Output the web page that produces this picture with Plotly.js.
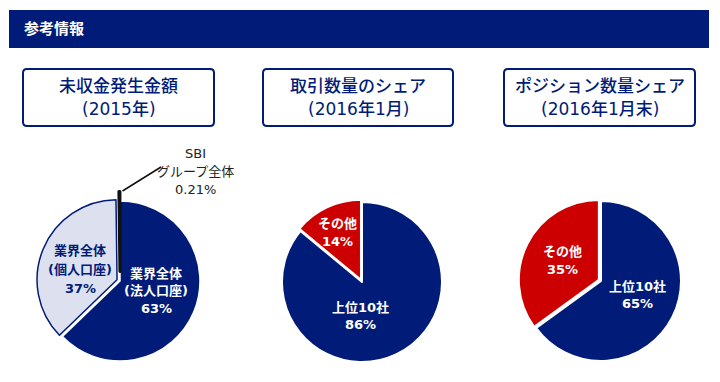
<!DOCTYPE html>
<html>
<head>
<meta charset="utf-8">
<script src="https://cdn.plot.ly/plotly-3.0.1.min.js"></script>
<style>
html,body{margin:0;padding:0;background:#fff;}
#chart{width:720px;height:382px;}
</style>
</head>
<body>
<div id="chart"></div>
<script>
// ---- data ----
const headerText = '参考情報';
const chartTitles = [['未収金発生金額', '(2015年)'], ['取引数量のシェア', '(2016年1月)'], ['ポジション数量シェア', '(2016年1月末)']];

const pie1Labels = [['業界全体', '(法人口座)'], ['業界全体', '(個人口座)'], ['SBI', 'グループ全体']];
const pie1Values = [62.79, 37.00, 0.21];

const pie2Labels = [['上位10社'], ['その他']];
const pie2Values = [86, 14];

const pie3Labels = [['上位10社'], ['その他']];
const pie3Values = [65, 35];

// ---- styling ----
const W = 720, H = 382;
const NAVY = '#001c78';
const LIGHT = '#dde1ef';
const RED = '#cc0000';
const FONT = '"DejaVu Sans", "Noto Sans CJK JP", sans-serif';

const px = x => x / W;
const py = y => 1 - y / H;
function fmtPct(v){ return (v >= 1 ? Math.round(v) : v.toFixed(2)) + '%'; }
function pieDomain(cx, cy, r, maxPull){
  const h = r * (1 + maxPull);
  return {x:[px(cx - h), px(cx + h)], y:[py(cy + h), py(cy - h)]};
}
function rrect(x0,y0,x1,y1,r){
  return `M${px(x0+r)},${py(y0)} L${px(x1-r)},${py(y0)} Q${px(x1)},${py(y0)} ${px(x1)},${py(y0+r)} `+
         `L${px(x1)},${py(y1-r)} Q${px(x1)},${py(y1)} ${px(x1-r)},${py(y1)} `+
         `L${px(x0+r)},${py(y1)} Q${px(x0)},${py(y1)} ${px(x0)},${py(y1-r)} `+
         `L${px(x0)},${py(y0+r)} Q${px(x0)},${py(y0)} ${px(x0+r)},${py(y0)} Z`;
}

const pull1 = [0, 0.04, 0.12];
const pull2 = [0, 0.03];
const pull3 = [0, 0.03];

const traces = [
  {
    type:'pie', labels:pie1Labels.map(l=>l.join('')), values:pie1Values, sort:false, direction:'clockwise', rotation:0,
    pull:pull1, textinfo:'none', hoverinfo:'none',
    marker:{colors:[NAVY, LIGHT, '#111111'], line:{color:['#ffffff', NAVY, '#111111'], width:[1.5, 1.5, 3]}},
    domain: pieDomain(120, 281, 80, Math.max(...pull1))
  },
  {
    type:'pie', labels:pie2Labels.map(l=>l.join('')), values:pie2Values, sort:false, direction:'clockwise', rotation:0,
    pull:pull2, textinfo:'none', hoverinfo:'none',
    marker:{colors:[NAVY, RED], line:{color:'#ffffff', width:2}},
    domain: pieDomain(362, 282, 80, Math.max(...pull2))
  },
  {
    type:'pie', labels:pie3Labels.map(l=>l.join('')), values:pie3Values, sort:false, direction:'clockwise', rotation:0,
    pull:pull3, textinfo:'none', hoverinfo:'none',
    marker:{colors:[NAVY, RED], line:{color:'#ffffff', width:2}},
    domain: pieDomain(601, 281, 80, Math.max(...pull3))
  }
];

const shapes = [
  {type:'rect', xref:'paper', yref:'paper', x0:px(9), x1:px(709), y0:py(48), y1:py(10), fillcolor:NAVY, line:{width:0}, layer:'below'},
  {type:'path', xref:'paper', yref:'paper', path:rrect(23,69,214,126,4), line:{color:NAVY, width:2}},
  {type:'path', xref:'paper', yref:'paper', path:rrect(263,69,453,126,4), line:{color:NAVY, width:2}},
  {type:'path', xref:'paper', yref:'paper', path:rrect(504,69,695,126,4), line:{color:NAVY, width:2}},
  {type:'line', xref:'paper', yref:'paper', x0:px(122.5), y0:py(191), x1:px(161), y1:py(167), line:{color:'#111111', width:1.5}}
];

const annotations = [];
function addText(text, x, y, size, color, weight){
  annotations.push({text:text, x:px(x), y:py(y), xref:'paper', yref:'paper', showarrow:false,
    xanchor:'center', yanchor:'middle', align:'center',
    font:{family:FONT, size:size, color:color, weight:weight || 'normal'}});
}
annotations.push({text:'<b>'+headerText+'</b>', x:px(22), y:py(29.5), xref:'paper', yref:'paper', showarrow:false,
  xanchor:'left', yanchor:'middle', font:{family:FONT, size:15, color:'#ffffff'}});

const titleX = [118.5, 358, 599.5];
chartTitles.forEach((t,i)=>{
  addText(t[0], titleX[i], 85.5, 17, NAVY, 500);
  addText(t[1], titleX[i], 109, 17, NAVY, 500);
});

// pie text lines: label lines then value
function pieText(lines, value, x, yTop, step, color, weight, size){
  const all = lines.concat([fmtPct(value)]);
  all.forEach((s,k)=> addText(s, x, yTop + k*step, size, color, weight));
}
pieText(pie1Labels[0], pie1Values[0], 156, 273, 17.5, '#ffffff', 'bold', 13);
pieText(pie1Labels[1], pie1Values[1], 80, 250, 19, NAVY, 'bold', 13);
pieText(pie1Labels[2], pie1Values[2], 196, 153, 18, '#222222', 'normal', 13);
pieText(pie2Labels[0], pie2Values[0], 360, 307, 17, '#ffffff', 'bold', 13);
pieText(pie2Labels[1], pie2Values[1], 337, 223, 19, '#ffffff', 'bold', 13);
pieText(pie3Labels[0], pie3Values[0], 637, 286, 17, '#ffffff', 'bold', 13);
pieText(pie3Labels[1], pie3Values[1], 562, 251, 18, '#ffffff', 'bold', 13);

const layout = {
  width:W, height:H, margin:{l:0,r:0,t:0,b:0,pad:0},
  paper_bgcolor:'#ffffff', plot_bgcolor:'#ffffff',
  showlegend:false, shapes:shapes, annotations:annotations,
  font:{family:FONT}
};

Plotly.newPlot('chart', traces, layout, {displayModeBar:false, staticPlot:true});
</script>
</body>
</html>
